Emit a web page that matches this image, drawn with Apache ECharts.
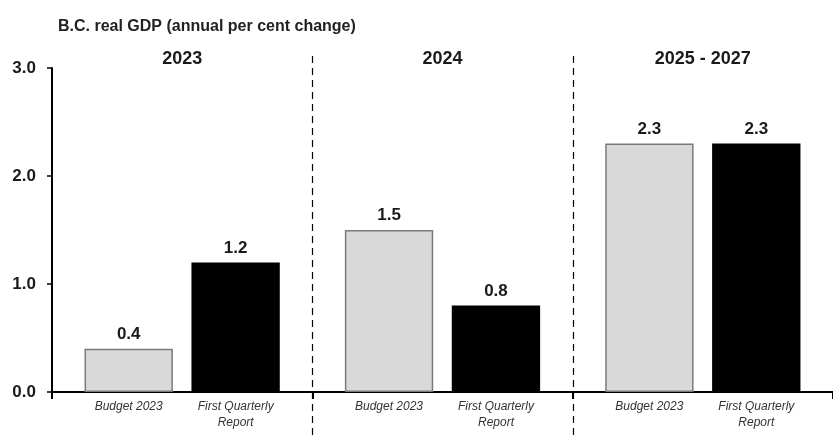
<!DOCTYPE html>
<html>
<head>
<meta charset="utf-8">
<script src="https://cdn.jsdelivr.net/npm/echarts@6/dist/echarts.min.js"></script>
<style>
  html, body { margin: 0; padding: 0; background: #fff; }
  #chart { width: 833px; height: 439px; }
</style>
</head>
<body>
<div id="chart"></div>
<script>
// B.C. real GDP forecasts, annual per cent change
const periods = ['2023', '2024', '2025 - 2027'];
const budget2023 = [0.4, 1.5, 2.3];
const firstQuarterly = [1.2, 0.8, 2.3];
const seriesNames = ['Budget 2023', 'First Quarterly Report'];
const yTicks = [0, 1, 2, 3];
// separators are drawn after these periods
const separatorsAfter = ['2023', '2024'];

const FONT = '"Liberation Sans", Arial, sans-serif';

const chart = echarts.init(document.getElementById('chart'), null, { renderer: 'canvas' });

const valueLabel = {
  show: true,
  position: 'top',
  distance: 6,
  formatter: p => p.value.toFixed(1),
  fontFamily: FONT,
  fontWeight: 'bold',
  fontSize: 17,
  color: '#1a1a1a'
};

const subLabel = { width: 107, align: 'center', fontFamily: FONT, fontStyle: 'italic', fontSize: 12, lineHeight: 16, color: '#333' };

chart.setOption({
  animation: false,
  backgroundColor: '#fff',
  title: {
    text: 'B.C. real GDP (annual per cent change)',
    left: 53,
    top: 14,
    textStyle: { fontFamily: FONT, fontWeight: 'bold', fontSize: 16, color: '#222' }
  },
  grid: { left: 52, right: 0, top: 68, bottom: 47, containLabel: false },
  xAxis: [
    {
      type: 'category',
      data: periods,
      position: 'bottom',
      axisLine: { show: true, lineStyle: { color: '#000', width: 2 } },
      axisTick: { show: true, length: 7, lineStyle: { color: '#000', width: 2 } },
      axisLabel: {
        margin: 7,
        formatter: () => '{a|' + seriesNames[0] + '}{b|First Quarterly}\n{a| }{b|Report}',
        rich: { a: subLabel, b: subLabel }
      },
      splitLine: { show: false }
    },
    {
      type: 'category',
      data: periods,
      position: 'top',
      axisLine: { show: false },
      axisTick: { show: false },
      axisLabel: { margin: 0, fontFamily: FONT, fontWeight: 'bold', fontSize: 18, color: '#1a1a1a' },
      splitLine: { show: false }
    }
  ],
  yAxis: {
    type: 'value',
    min: yTicks[0],
    max: yTicks[yTicks.length - 1],
    interval: 1,
    axisLine: { show: true, lineStyle: { color: '#000', width: 2 } },
    axisTick: { show: true, length: 5, lineStyle: { color: '#000', width: 1.5 } },
    axisLabel: {
      margin: 16,
      formatter: v => v.toFixed(1),
      fontFamily: FONT, fontWeight: 'bold', fontSize: 17, color: '#1a1a1a'
    },
    splitLine: { show: false }
  },
  series: [
    {
      name: seriesNames[0],
      type: 'bar',
      xAxisIndex: 0,
      data: budget2023,
      barGap: '21%',
      barCategoryGap: '25%',
      itemStyle: { color: '#d9d9d9', borderColor: '#7a7a7a', borderWidth: 1.5 },
      label: valueLabel
    },
    {
      name: seriesNames[1],
      type: 'bar',
      xAxisIndex: 0,
      data: firstQuarterly,
      barGap: '21%',
      barCategoryGap: '25%',
      itemStyle: { color: '#000' },
      label: valueLabel
    },
    {
      // dashed dividers between the forecast periods
      type: 'custom',
      xAxisIndex: 0,
      clip: false,
      silent: true,
      encode: { x: 0 },
      data: separatorsAfter.map(p => [p]),
      renderItem: (params, api) => {
        const idx = api.value(0);
        const c = api.coord([idx, 0]);
        const x = Math.round(c[0] + api.size([1, 0])[0] / 2) + 0.5;
        const top = params.coordSys.y - 12;
        return {
          type: 'line',
          shape: { x1: x, y1: top, x2: x, y2: api.getHeight() },
          style: { stroke: '#000', lineWidth: 1.2, lineDash: [7, 5] }
        };
      }
    }
  ]
});
</script>
</body>
</html>
